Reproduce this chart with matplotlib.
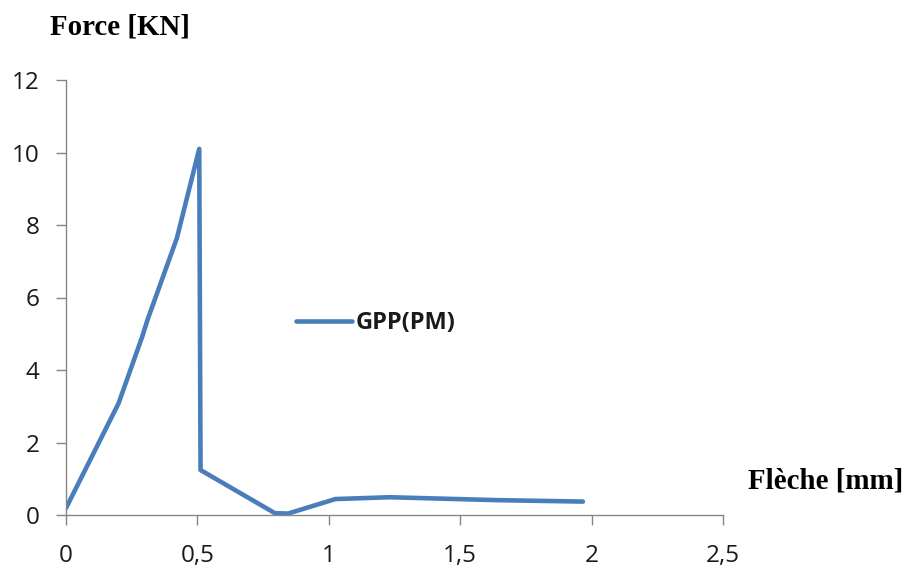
import matplotlib
matplotlib.use("Agg")
import matplotlib.pyplot as plt
from matplotlib.ticker import FuncFormatter

# Force–deflection curve
fleche = [0.0, 0.20, 0.29, 0.31, 0.422, 0.507, 0.512, 0.795, 0.845, 1.025, 1.232, 1.64, 1.967]
force = [0.19, 3.08, 4.92, 5.38, 7.64, 10.1, 1.24, 0.05, 0.04, 0.44, 0.49, 0.41, 0.37]
series_name = "GPP(PM)"
x_ticks = [0, 0.5, 1, 1.5, 2, 2.5]
y_ticks = [0, 2, 4, 6, 8, 10, 12]

fig = plt.figure(figsize=(9.06, 5.70), dpi=100)
ax = fig.add_axes([66 / 906, 1 - 515 / 570, (723 - 66) / 906, (515 - 80) / 570])

ax.plot(fleche, force, color="#4a7ebb", linewidth=3.3, solid_joinstyle="round",
        solid_capstyle="round", label=series_name)

ax.set_xlim(0, 2.5)
ax.set_ylim(0, 12)
ax.set_xticks(x_ticks)
ax.set_yticks(y_ticks)

fmt = FuncFormatter(lambda v, _: ("%g" % v).replace(".", ","))
ax.xaxis.set_major_formatter(fmt)
ax.yaxis.set_major_formatter(fmt)

for side in ("top", "right"):
    ax.spines[side].set_visible(False)
for side in ("left", "bottom"):
    ax.spines[side].set_color("#868686")
    ax.spines[side].set_linewidth(1.0)
    ax.spines[side].set_clip_on(False)

ax.tick_params(axis="both", direction="out", length=7, width=1.0, color="#868686",
               labelcolor="#1a1a1a", labelsize=17.5)
ax.tick_params(axis="x", pad=14)
ax.tick_params(axis="y", pad=12)
for lbl in ax.get_xticklabels() + ax.get_yticklabels():
    lbl.set_family("Open Sans")

leg = ax.legend(loc="center left", bbox_to_anchor=(0.335, 0.441), frameon=False,
                handlelength=2.4, handletextpad=0.15, borderaxespad=0,
                prop={"family": "Open Sans", "weight": "bold", "size": 17})
for t in leg.get_texts():
    t.set_color("#1a1a1a")

fig.text(50 / 906, 1 - 27 / 570, "Force [KN]", family="Liberation Serif",
         weight="bold", size=20.8, ha="left", va="center")
fig.text(748 / 906, 1 - 481 / 570, "Flèche [mm]", family="Liberation Serif",
         weight="bold", size=20.8, ha="left", va="center")

fig.savefig("out.png", dpi=100)
